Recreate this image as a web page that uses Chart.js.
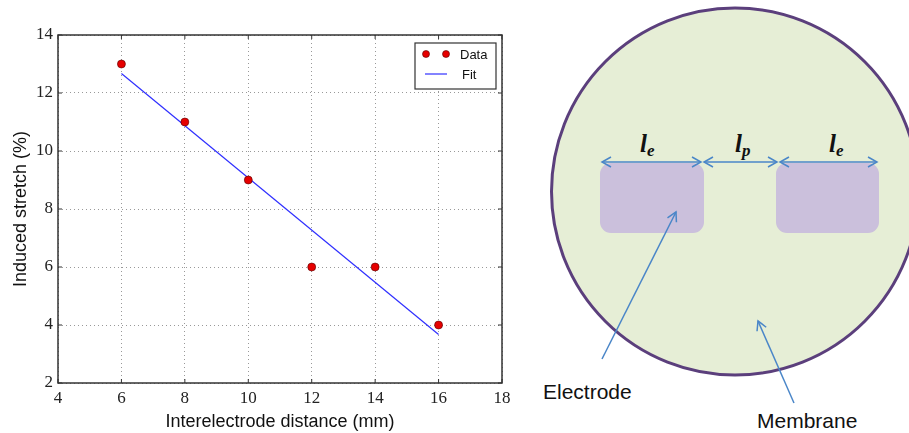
<!DOCTYPE html>
<html>
<head>
<meta charset="utf-8">
<script src="https://cdn.jsdelivr.net/npm/chart.js@4.4.1/dist/chart.umd.min.js"></script>
<style>
  html, body { margin: 0; padding: 0; background: #fff; }
  #wrap { position: relative; width: 909px; height: 433px; overflow: hidden; }
  #chartBox { position: absolute; left: 0; top: 0; width: 530px; height: 433px; }
  #diagram { position: absolute; left: 530px; top: 0; }
</style>
</head>
<body>
<div id="wrap">
  <div id="chartBox"><canvas id="chart"></canvas></div>
  <svg id="diagram" width="379" height="433" viewBox="530 0 379 433"></svg>
</div>
<script>
// data
const distances = [6, 8, 10, 12, 14, 16];
const stretch = [13, 11, 9, 6, 6, 4];
const fitX = [6, 16];
const fitY = [12.67, 3.67];
const xTicks = [4, 6, 8, 10, 12, 14, 16, 18];
const yTicks = [2, 4, 6, 8, 10, 12, 14];

const tickFont = { family: 'Liberation Serif', size: 17 };
const labelFont = { family: 'Liberation Sans', size: 18 };

// frame, inward tick marks and matplotlib-style legend
const framePlugin = {
  id: 'frame',
  afterDraw(chart) {
    const { ctx, chartArea: a, scales } = chart;
    ctx.save();
    ctx.strokeStyle = '#333';
    ctx.lineWidth = 1.5;
    ctx.strokeRect(a.left, a.top, a.right - a.left, a.bottom - a.top);
    ctx.lineWidth = 1;
    ctx.beginPath();
    xTicks.forEach(t => {
      const x = scales.x.getPixelForValue(t);
      ctx.moveTo(x, a.bottom); ctx.lineTo(x, a.bottom - 4);
      ctx.moveTo(x, a.top); ctx.lineTo(x, a.top + 4);
    });
    yTicks.forEach(t => {
      const y = scales.y.getPixelForValue(t);
      ctx.moveTo(a.left, y); ctx.lineTo(a.left + 4, y);
      ctx.moveTo(a.right, y); ctx.lineTo(a.right - 4, y);
    });
    ctx.stroke();

    // legend box
    const lx = 415, ly = 43, lw = 81, lh = 46;
    ctx.fillStyle = '#fff';
    ctx.fillRect(lx, ly, lw, lh);
    ctx.strokeStyle = '#333';
    ctx.lineWidth = 1.2;
    ctx.strokeRect(lx, ly, lw, lh);
    const d0 = chart.data.datasets[0], d1 = chart.data.datasets[1];
    [426, 446].forEach(px => {
      ctx.beginPath();
      ctx.arc(px, 54, 3.5, 0, Math.PI * 2);
      ctx.fillStyle = d0.backgroundColor;
      ctx.fill();
      ctx.strokeStyle = d0.borderColor;
      ctx.lineWidth = 0.6;
      ctx.stroke();
    });
    ctx.beginPath();
    ctx.moveTo(425, 74); ctx.lineTo(447, 74);
    ctx.strokeStyle = d1.borderColor;
    ctx.lineWidth = 1.2;
    ctx.stroke();
    ctx.fillStyle = '#111';
    ctx.font = '13px "Liberation Sans"';
    ctx.textBaseline = 'middle';
    ctx.fillText(d0.label, 460, 55);
    ctx.fillText(d1.label, 462, 75);
    ctx.restore();
  }
};

new Chart(document.getElementById('chart'), {
  type: 'scatter',
  data: {
    datasets: [
      {
        label: 'Data',
        data: distances.map((x, i) => ({ x, y: stretch[i] })),
        backgroundColor: '#e60000',
        borderColor: '#550000',
        borderWidth: 0.6,
        pointRadius: 4,
        order: 1
      },
      {
        label: 'Fit',
        type: 'line',
        data: fitX.map((x, i) => ({ x, y: fitY[i] })),
        borderColor: '#2f2fff',
        borderWidth: 1.2,
        pointRadius: 0,
        fill: false,
        order: 2
      }
    ]
  },
  options: {
    responsive: true,
    maintainAspectRatio: false,
    animation: false,
    layout: { padding: { top: 35, right: 28, left: 10, bottom: 0 } },
    plugins: { legend: { display: false }, tooltip: { enabled: false } },
    scales: {
      x: {
        type: 'linear', min: 4, max: 18,
        afterBuildTicks: s => { s.ticks = xTicks.map(v => ({ value: v })); },
        afterFit: s => { s.height = 50; },
        grid: { color: 'rgba(0,0,0,0.4)', drawTicks: false },
        border: { display: false, dash: [1, 3] },
        ticks: { font: tickFont, color: '#222', padding: 5, maxRotation: 0 },
        title: { display: true, text: 'Interelectrode distance (mm)', font: labelFont, color: '#111', padding: { top: 0, bottom: 0 } }
      },
      y: {
        type: 'linear', min: 2, max: 14,
        afterBuildTicks: s => { s.ticks = yTicks.map(v => ({ value: v })); },
        afterFit: s => { s.width = 48; },
        grid: { color: 'rgba(0,0,0,0.4)', drawTicks: false },
        border: { display: false, dash: [1, 3] },
        ticks: { font: tickFont, color: '#222', padding: 5 },
        title: { display: true, text: 'Induced stretch (%)', font: labelFont, color: '#111', padding: { top: 0, bottom: 0 } }
      }
    }
  },
  plugins: [framePlugin]
});

// membrane / electrode sketch on the right
const svg = document.getElementById('diagram');
const NS = 'http://www.w3.org/2000/svg';
function el(tag, attrs, text) {
  const e = document.createElementNS(NS, tag);
  for (const k in attrs) e.setAttribute(k, attrs[k]);
  if (text) e.textContent = text;
  svg.appendChild(e);
  return e;
}
const blue = '#4a86c8';
el('circle', { cx: 735, cy: 191.5, r: 183.5, fill: '#e6eed6', stroke: '#5b3f7c', 'stroke-width': 3 });
el('rect', { x: 600, y: 163, width: 104, height: 70, rx: 11, fill: '#cbc0dc' });
el('rect', { x: 776, y: 163, width: 103, height: 70, rx: 11, fill: '#cbc0dc' });

function head(x, y, dx, dy) {
  const len = 9, w = 5;
  const n = Math.hypot(dx, dy), ux = dx / n, uy = dy / n;
  const bx = x - ux * len, by = y - uy * len;
  el('path', { d: `M${bx - uy * w},${by + ux * w} L${x},${y} L${bx + uy * w},${by - ux * w}`, fill: 'none', stroke: blue, 'stroke-width': 1.5 });
}
function arrow(x1, y1, x2, y2, both) {
  el('line', { x1, y1, x2, y2, stroke: blue, 'stroke-width': 1.5 });
  head(x2, y2, x2 - x1, y2 - y1);
  if (both) head(x1, y1, x1 - x2, y1 - y2);
}
arrow(602, 162, 701, 162, true);
arrow(704, 162, 777, 162, true);
arrow(780, 162, 877, 162, true);
arrow(602, 359, 676, 212, false);
arrow(794, 403, 758, 321, false);

function dimLabel(x, sub) {
  const t = el('text', { x, y: 152, 'font-family': 'Liberation Serif', 'font-size': 25, 'font-weight': 'bold', 'font-style': 'italic', fill: '#111' }, 'l');
  const s = document.createElementNS(NS, 'tspan');
  s.setAttribute('font-size', 17);
  s.setAttribute('dy', 4);
  s.textContent = sub;
  t.appendChild(s);
}
dimLabel(640, 'e');
dimLabel(735, 'p');
dimLabel(829, 'e');

el('text', { x: 543, y: 399, 'font-family': 'Liberation Sans', 'font-size': 21, fill: '#111' }, 'Electrode');
el('text', { x: 757, y: 428, 'font-family': 'Liberation Sans', 'font-size': 21, fill: '#111' }, 'Membrane');
</script>
</body>
</html>
